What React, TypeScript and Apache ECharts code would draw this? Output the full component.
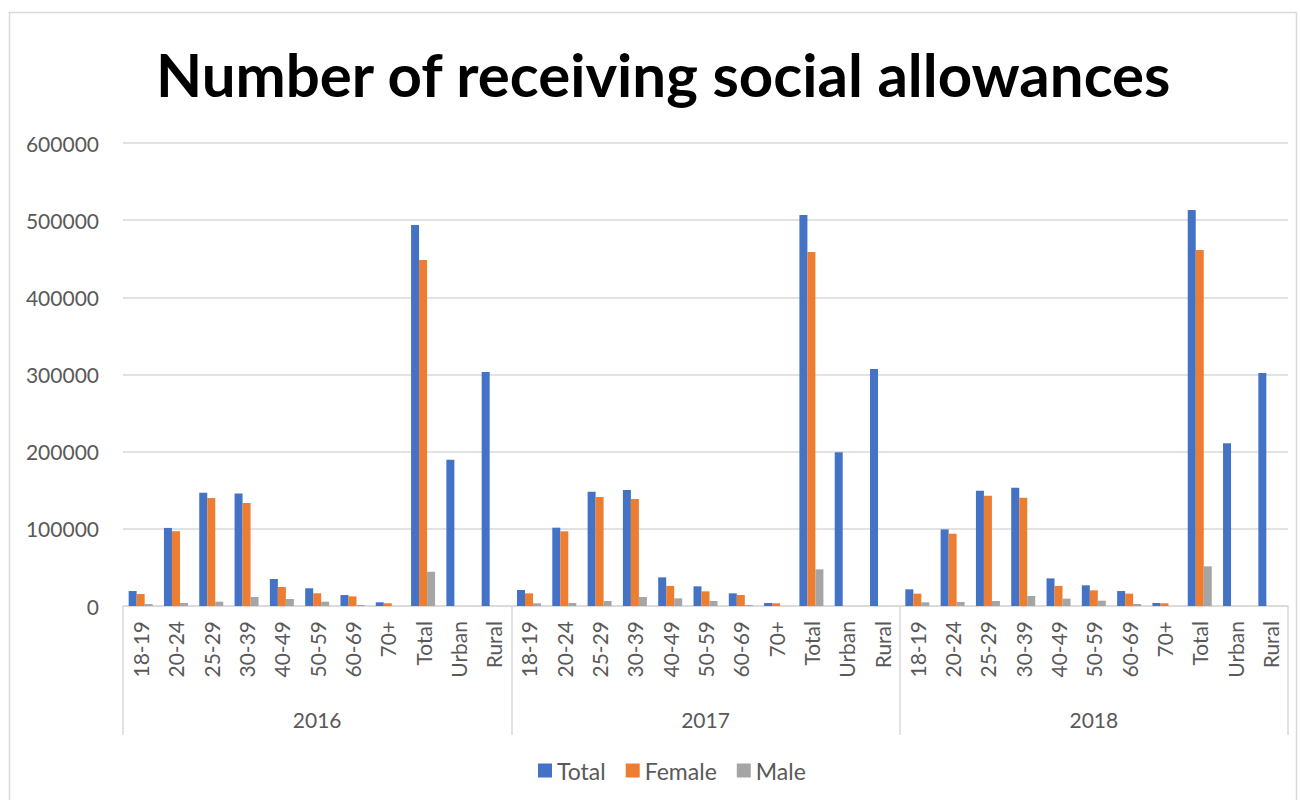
import React, { useEffect, useRef } from "react";
import * as echarts from "echarts";

const groups = ["2016", "2017", "2018"];
const subCategories = ["18-19", "20-24", "25-29", "30-39", "40-49", "50-59", "60-69", "70+", "Total", "Urban", "Rural"];

const total2016 = [19400, 101200, 146600, 145700, 35000, 23000, 14200, 4800, 493800, 189400, 303100];
const total2017 = [20700, 101500, 147900, 150400, 37100, 25500, 16400, 3900, 506700, 199300, 307000];
const total2018 = [21600, 99300, 149500, 153400, 35800, 26800, 19400, 3900, 513200, 211000, 301800];

const female2016 = [15500, 96900, 140100, 133600, 24600, 16500, 12500, 3500, 448400, null, null];
const female2017 = [16400, 96800, 141400, 138800, 26000, 19000, 14200, 3500, 458800, null, null];
const female2018 = [16000, 93700, 143000, 140400, 26000, 20300, 16000, 3500, 461300, null, null];

const male2016 = [2500, 3900, 5600, 11700, 9100, 5600, 1300, 0, 44400, null, null];
const male2017 = [3500, 3900, 6500, 11700, 9900, 6500, 1300, 0, 47500, null, null];
const male2018 = [4800, 5200, 6500, 13000, 9500, 6900, 2600, 0, 51400, null, null];

const yTicks = [0, 100000, 200000, 300000, 400000, 500000, 600000];

const FONT = "Lato, 'Open Sans', sans-serif";
const TEXT = "#595959";
const GRID = "#d9d9d9";

export default function App() {
  const ref = useRef<HTMLDivElement>(null);

  useEffect(() => {
    if (!ref.current) return;
    const chart = echarts.init(ref.current, null, { renderer: "svg" });
    const categories = [...subCategories, ...subCategories, ...subCategories];
    const totals = [...total2016, ...total2017, ...total2018];
    const females = [...female2016, ...female2017, ...female2018];
    const males = [...male2016, ...male2017, ...male2018];

    chart.setOption({
      animation: false,
      backgroundColor: "#ffffff",
      title: {
        text: "Number of receiving social allowances",
        left: 151,
        top: 39,
        textStyle: { fontFamily: FONT, fontWeight: "bold", fontSize: 60, color: "#000" },
      },
      graphic: [
        {
          type: "rect",
          shape: { x: 9.5, y: 12.5, width: 1287, height: 820 },
          style: { fill: "none", stroke: GRID, lineWidth: 1.5 },
          silent: true,
          z: -1,
        },
      ],
      legend: {
        top: 754,
        left: 533,
        icon: "rect",
        itemWidth: 14,
        itemHeight: 14,
        itemGap: 20,
        textStyle: { fontFamily: FONT, fontSize: 23, color: TEXT },
        data: ["Total", "Female", "Male"],
      },
      grid: { left: 123, right: 12, top: 143, bottom: 194 },
      xAxis: [
        {
          type: "category",
          data: categories,
          position: "bottom",
          axisLine: { lineStyle: { color: GRID, width: 1.5 } },
          axisTick: { show: false },
          axisLabel: { rotate: 90, interval: 0, margin: 15, fontFamily: FONT, fontSize: 21, color: TEXT },
        },
        {
          type: "category",
          data: groups,
          position: "bottom",
          axisLine: { show: false },
          axisTick: { show: true, length: 129, interval: 0, lineStyle: { color: GRID, width: 1.5 } },
          axisLabel: { margin: 103, interval: 0, fontFamily: FONT, fontSize: 21, color: TEXT },
          splitLine: { show: false },
        },
      ],
      yAxis: {
        type: "value",
        min: yTicks[0],
        max: yTicks[yTicks.length - 1],
        interval: 100000,
        axisLine: { show: false },
        axisTick: { show: false },
        axisLabel: {
          margin: 24,
          fontFamily: FONT,
          fontSize: 21,
          color: TEXT,
          formatter: (v: number) => String(v),
        },
        splitLine: { lineStyle: { color: GRID, width: 1.5 } },
      },
      series: [
        { name: "Total", type: "bar", data: totals, barWidth: 8, barGap: "0%", itemStyle: { color: "#4472C4" } },
        { name: "Female", type: "bar", data: females, barWidth: 8, barGap: "0%", itemStyle: { color: "#ED7D31" } },
        { name: "Male", type: "bar", data: males, barWidth: 8, barGap: "0%", itemStyle: { color: "#A5A5A5" } },
      ],
    });
    return () => chart.dispose();
  }, []);

  return (
    <div
      ref={ref}
      style={{ position: "absolute", left: 0, top: 0, width: 1300, height: 800, background: "#fff" }}
    />
  );
}
